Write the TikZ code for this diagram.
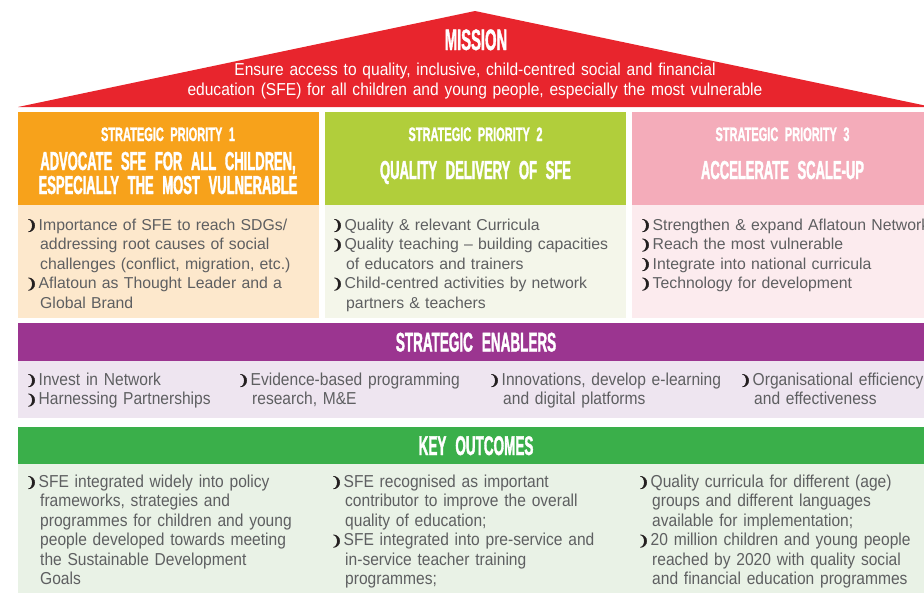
\documentclass[tikz,border=0pt]{standalone}
\usepackage{fontspec}
\setmainfont{Liberation Sans}
\newfontfamily\headfont[FakeStretch=0.5, FakeBold=1.4]{Liberation Sans}
\newfontfamily\subheadfont[FakeStretch=0.565, FakeBold=1.1]{Liberation Sans}
\newfontfamily\narrowfont[FakeStretch=0.9]{Liberation Sans}
\newfontfamily\symfont[FakeBold=2.5]{DejaVu Sans}

\definecolor{sfred}{HTML}{E8252D}
\definecolor{sforange}{HTML}{F7A21B}
\definecolor{sforangelt}{HTML}{FDE8CC}
\definecolor{sflime}{HTML}{B1CE3B}
\definecolor{sflimelt}{HTML}{F4F6EA}
\definecolor{sfpink}{HTML}{F4ACBA}
\definecolor{sfpinklt}{HTML}{FCEBEE}
\definecolor{sfpurple}{HTML}{9B3590}
\definecolor{sfpurplelt}{HTML}{EEE5F0}
\definecolor{sfgreen}{HTML}{3AAF4A}
\definecolor{sfgreenlt}{HTML}{E9F2E6}
\definecolor{sftext}{HTML}{5E5F61}
\definecolor{sfbullet}{HTML}{231F20}

\newcommand{\bul}{\makebox[10.5pt][l]{\hspace{-2.5pt}\color{sfbullet}\symfont\fontsize{14}{14}\selectfont ❩}}
\newcommand{\itm}[1]{\hangindent=12pt\hangafter=1\noindent\bul#1\par}
\newcommand{\tightspace}[1]{\spaceskip=#1\relax}

\tikzset{
  band/.style={fill=#1, draw=none, anchor=north west, inner sep=0pt},
  bigcap/.style={text=white, anchor=base, inner sep=0pt, align=center, text width=290pt,
    font=\headfont\bfseries\fontsize{26}{24}\selectfont\tightspace{3.5pt}},
  barcap/.style={bigcap, font=\headfont\bfseries\fontsize{27}{26}\selectfont\tightspace{3.5pt}},
  smallcap/.style={bigcap, font=\subheadfont\bfseries\fontsize{19.5}{20}\selectfont\tightspace{3pt}},
  itemlist/.style={text=sftext, anchor=base west, inner sep=0pt, align=left, text width=#1,
    font=\fontsize{15.8}{19.5}\selectfont},
  narrowlist/.style={itemlist=#1, font=\narrowfont\fontsize{17.3}{19.5}\selectfont},
}

\begin{document}
\begin{tikzpicture}[x=1pt, y=-1pt]
  \useasboundingbox (0,0) rectangle (924,592);
  \clip (0,0) rectangle (924,592);

  \fill[sfred] (18,107) -- (475,11) -- (932,107) -- cycle;
  \node[barcap, font=\headfont\bfseries\fontsize{29.5}{26}\selectfont] (mission) at (476,50) {MISSION};
  \node[narrowlist=640pt, text=white, align=center, anchor=base] (missiontxt) at (475,75.5)
    {Ensure access to quality, inclusive, child-centred social and financial\\
     education (SFE) for all children and young people, especially the most vulnerable};

  \foreach \i/\x/\c/\l in {1/18/sforange/sforangelt, 2/325/sflime/sflimelt, 3/632/sfpink/sfpinklt} {
    \node[band=\c, minimum width=301pt, minimum height=93pt] (head\i) at (\x,112) {};
    \node[band=\l, minimum width=301pt, minimum height=113pt] (body\i) at (\x,205) {};
  }

  \node[smallcap] (sub1) at (168,141) {STRATEGIC PRIORITY 1};
  \node[bigcap] (title1) at (168,170) {ADVOCATE SFE FOR ALL CHILDREN,\\ESPECIALLY THE MOST VULNERABLE};
  \node[smallcap] (sub2) at (475.5,141) {STRATEGIC PRIORITY 2};
  \node[bigcap] (title2) at (475.5,179) {QUALITY DELIVERY OF SFE};
  \node[smallcap] (sub3) at (782.5,141) {STRATEGIC PRIORITY 3};
  \node[bigcap] (title3) at (782.5,179) {ACCELERATE SCALE-UP};

  \node[itemlist=285pt] (items1) at (28,230) {%
    \itm{Importance of SFE to reach SDGs/\newline addressing root causes of social\newline
      challenges (conflict, migration, etc.)}%
    \itm{Aflatoun as Thought Leader and a\newline Global Brand}};
  \node[itemlist=285pt] (items2) at (334,230) {%
    \itm{Quality \& relevant Curricula}%
    \itm{Quality teaching -- building capacities\newline of educators and trainers}%
    \itm{Child-centred activities by network\newline partners \& teachers}};
  \node[itemlist=300pt] (items3) at (642,230) {%
    \itm{Strengthen \& expand Aflatoun Network}%
    \itm{Reach the most vulnerable}%
    \itm{Integrate into national curricula}%
    \itm{Technology for development}};

  \node[band=sfpurple, minimum width=916pt, minimum height=38pt] (enablers) at (18,323) {};
  \node[band=sfpurplelt, minimum width=916pt, minimum height=57pt] (enablersbody) at (18,361) {};
  \node[barcap] (enablerstitle) at (476,351.5) {STRATEGIC ENABLERS};
  \node[narrowlist=205pt] (enab1) at (28,385) {%
    \itm{Invest in Network}%
    \itm{Harnessing Partnerships}};
  \node[narrowlist=245pt] (enab2) at (240,385) {%
    \itm{Evidence-based programming\newline research, M\&E}};
  \node[narrowlist=245pt] (enab3) at (491,385) {%
    \itm{Innovations, develop e-learning\newline and digital platforms}};
  \node[narrowlist=245pt] (enab4) at (742,385) {%
    \itm{Organisational efficiency\newline and effectiveness}};

  \node[band=sfgreen, minimum width=916pt, minimum height=37pt] (outcomes) at (18,427) {};
  \node[band=sfgreenlt, minimum width=916pt, minimum height=130pt] (outcomesbody) at (18,464) {};
  \node[barcap] (outcomestitle) at (476,455) {KEY OUTCOMES};
  \node[narrowlist=300pt] (out1) at (28,487) {%
    \itm{SFE integrated widely into policy\newline frameworks, strategies and\newline
      programmes for children and young\newline people developed towards meeting\newline
      the Sustainable Development\newline Goals}};
  \node[narrowlist=300pt] (out2) at (333,487) {%
    \itm{SFE recognised as important\newline contributor to improve the overall\newline
      quality of education;}%
    \itm{SFE integrated into pre-service and\newline in-service teacher training\newline
      programmes;}};
  \node[narrowlist=300pt] (out3) at (640,487) {%
    \itm{Quality curricula for different (age)\newline groups and different languages\newline
      available for implementation;}%
    \itm{20 million children and young people\newline reached by 2020 with quality social\newline
      and financial education programmes}};
\end{tikzpicture}
\end{document}
